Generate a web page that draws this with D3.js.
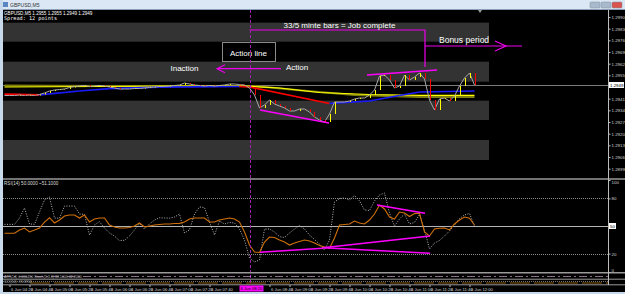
<!DOCTYPE html>
<html>
<head>
<meta charset="utf-8">
<script src="https://cdn.jsdelivr.net/npm/d3@7"></script>
<style>
html, body { margin: 0; padding: 0; background: #000; overflow: hidden; }
svg { display: block; font-family: "Liberation Sans", Arial, sans-serif; }
</style>
</head>
<body>
<div id="chart"></div>
<script>
// ---- DATA ----
// 5 minute closes, GBPUSD
var closes = [1.29429,1.29429,1.29429,1.29432,1.29429,1.29432,1.29429,1.29435,1.29444,1.29456,
  1.29462,1.29465,1.29468,1.29477,1.29483,1.29486,1.29489,1.29483,1.29486,1.29489,
  1.29486,1.29480,1.29474,1.29468,1.29468,1.29468,1.29471,1.29471,1.29474,1.29477,
  1.29480,1.29483,1.29483,1.29486,1.29489,1.29492,1.29504,1.29498,1.29492,1.29489,
  1.29486,1.29489,1.29486,1.29489,1.29492,1.29498,1.29498,1.29495,1.29492,1.29474,
  1.29432,1.29354,1.29372,1.29402,1.29378,1.29366,1.29354,1.29336,1.29336,1.29348,
  1.29348,1.29330,1.29300,1.29282,1.29270,1.29318,1.29390,1.29390,1.29390,1.29396,
  1.29408,1.29414,1.29414,1.29432,1.29462,1.29546,1.29552,1.29522,1.29474,1.29486,
  1.29552,1.29522,1.29540,1.29564,1.29528,1.29402,1.29342,1.29408,1.29414,1.29396,
  1.29426,1.29486,1.29534,1.29564,1.29492];

// moving averages as [bar, price]
var yellowMa = [[0,1.29480],[19,1.29483],[35,1.29486],[48,1.29486],[55,1.29474],[63,1.29447],[73,1.29435],[83,1.29430],[94,1.29430]];
var oliveMa = [[0,1.29489],[20,1.29486],[40,1.29486],[50,1.29486],[60,1.29457],[70,1.29432],[83,1.29420],[94,1.29420]];
var slopeMa = [[0,1.29437],[7,1.29433],[15,1.29456],[21,1.29470],[31,1.29479],[47,1.29483],[49,1.29480],[65,1.29381],[66,1.29383],[73,1.29396],[79,1.29429],[83,1.29450],[94,1.29456]];

// RSI window
var rsiSlow = [42.1,42.1,42.1,45.7,47.8,43.5,45.7,47.8,54.3,59.0,
  53.3,56.5,60.9,62.0,62.0,58.7,62.0,54.3,57.6,58.7,
  58.7,51.1,48.9,47.8,47.8,48.4,50.0,53.3,48.9,50.0,
  51.1,51.6,52.2,52.2,52.7,52.9,54.3,57.6,58.7,58.7,
  58.7,54.3,54.3,56.5,57.6,58.7,57.6,54.3,43.5,29.3,
  21.7,21.2,32.6,38.0,37.5,34.8,32.6,29.3,31.5,33.2,
  34.8,33.7,31.5,28.8,27.2,25.8,37.0,51.1,51.6,52.2,
  55.4,53.3,52.2,56.5,63.0,72.8,68.5,59.8,57.6,65.2,
  64.1,60.3,63.6,63.8,43.5,39.1,46.7,47.5,47.8,45.7,
  52.2,56.5,59.8,58.4,51.1];
var rsiFast = [51.8,51.8,51.8,58.7,69.6,52.2,51.8,65.2,78.3,81.5,
  58.7,58.4,71.7,71.7,71.7,63.0,62.7,40.2,51.1,54.7,
  47.8,42.4,39.1,34.0,34.5,39.1,45.7,52.7,46.7,52.2,
  56.5,59.0,58.7,58.5,59.8,63.0,42.4,45.7,63.0,70.7,
  70.1,54.3,40.2,55.4,52.2,53.8,53.3,46.7,34.8,15.2,
  10.9,13.0,46.7,46.7,43.5,38.4,37.5,42.4,46.7,50.5,
  46.7,40.2,35.3,30.4,23.9,34.8,76.1,79.9,80.4,78.3,
  83.2,77.2,67.4,66.8,77.2,83.7,85.9,64.1,50.0,57.6,
  63.0,52.2,53.8,62.5,45.7,25.0,31.5,34.2,39.1,44.6,
  51.1,58.2,62.0,63.6,50.0];
var rsiLevels = [80, 50, 20];
var rsiTicks = [100, 80, 20, 0];

// hand drawn objects [bar, value]
var priceTrends = [[[51.1,1.29342],[64.9,1.29264]], [[72.5,1.29552],[86.5,1.29582]]];
var rsiTrends = [[[51.1,21.4],[63.7,25.8]], [[63.7,26.4],[85.1,39.1]], [[63.7,26.4],[85.1,20.3]], [[74.5,72.8],[84.1,63.8]]];
var bands = [[1.29866,1.29752],[1.29632,1.29512],[1.29398,1.29282],[1.29162,1.29042]];

var priceTicks = [1.2990,1.2983,1.2976,1.2969,1.2962,1.2955,1.2948,1.2941,1.2934,1.2927,1.2920,1.2913,1.2906,1.2899];
var firstBarTime = new Date(2017, 5, 6, 4, 15);
var actionBar = 49;

// ---- LAYOUT ----
var W = 625, H = 294;
var left = 3, right = 608;
var main = { top: 10, bottom: 178 };
var sub = { top: 180, bottom: 272 };

var svg = d3.select("#chart").append("svg")
    .attr("width", W)
    .attr("height", H);

svg.append("rect").attr("width", W).attr("height", H).attr("fill", "#000");

var x = d3.scaleLinear().domain([0, 94]).range([4.5, 474.5]);
var y = d3.scaleLinear().domain([1.29942, 1.28934]).range([main.top, main.bottom]);
var yr = d3.scaleLinear().domain([0, 100]).range([sub.bottom, sub.top]);

var defs = svg.append("defs");
defs.append("clipPath").attr("id", "clipMain").append("rect")
    .attr("x", left).attr("y", main.top).attr("width", right - left).attr("height", main.bottom - main.top);
defs.append("clipPath").attr("id", "clipSub").append("rect")
    .attr("x", left).attr("y", sub.top).attr("width", right - left).attr("height", sub.bottom - sub.top);

var gMain = svg.append("g").attr("clip-path", "url(#clipMain)");
var gSub = svg.append("g").attr("clip-path", "url(#clipSub)");

// BANDS
gMain.selectAll("rect.band").data(bands).enter().append("rect")
    .attr("x", x(-3))
    .attr("width", x(96.9) - x(-3))
    .attr("y", function(d) { return y(d[0]); })
    .attr("height", function(d) { return y(d[1]) - y(d[0]); })
    .attr("fill", "#333333");

// CURRENT PRICE LINE
var last = closes[closes.length - 1];
gMain.append("line")
    .attr("x1", left).attr("x2", right)
    .attr("y1", Math.round(y(last)) + 0.5).attr("y2", Math.round(y(last)) + 0.5)
    .attr("stroke", "#7a7a7a").attr("stroke-width", 1);

// MOVING AVERAGES
var maLine = d3.line().x(function(d) { return x(d[0]); }).y(function(d) { return y(d[1]); });
gMain.append("path").attr("d", maLine(oliveMa)).attr("fill", "none").attr("stroke", "#7d7d10").attr("stroke-width", 2);
gMain.append("path").attr("d", maLine(yellowMa)).attr("fill", "none").attr("stroke", "#ffff00").attr("stroke-width", 1.2);

// slope coloured MA: red falling, blue rising
d3.pairs(slopeMa).forEach(function(p) {
    gMain.append("line")
        .attr("x1", x(p[0][0])).attr("y1", y(p[0][1]))
        .attr("x2", x(p[1][0])).attr("y2", y(p[1][1]))
        .attr("stroke", p[1][1] < p[0][1] ? "#ff0000" : "#1a1aff")
        .attr("stroke-width", 1.6);
});

// CLOSE LINE
var closeLine = d3.line().x(function(d, i) { return x(i); }).y(function(d) { return y(d); });
gMain.append("path").attr("d", closeLine(closes))
    .attr("fill", "none").attr("stroke", "#a8a8a8").attr("stroke-width", 1);

// BAR MOVES (prev close -> close)
gMain.selectAll("line.bar").data(d3.range(1, closes.length)).enter().append("line")
    .attr("x1", function(i) { return Math.round(x(i)) + 0.5; })
    .attr("x2", function(i) { return Math.round(x(i)) + 0.5; })
    .attr("y1", function(i) { return y(closes[i - 1]); })
    .attr("y2", function(i) { return y(closes[i]); })
    .attr("stroke", function(i) { return closes[i] >= closes[i - 1] ? "#ffff00" : "#ff0000"; })
    .attr("stroke-width", 1);

// TREND LINES
priceTrends.forEach(function(t) {
    gMain.append("line")
        .attr("x1", x(t[0][0])).attr("y1", y(t[0][1]))
        .attr("x2", x(t[1][0])).attr("y2", y(t[1][1]))
        .attr("stroke", "#ff00ff").attr("stroke-width", 1.4);
});

// ANNOTATIONS
var magenta = "#ee00ee";
var jobY = 1.29822;
gMain.append("polyline")
    .attr("points", [[x(actionBar), y(jobY)], [x(84.1), y(jobY)], [x(84.1), y(1.29600)]].join(" "))
    .attr("fill", "none").attr("stroke", magenta).attr("stroke-width", 1.2);

gMain.append("text")
    .attr("x", x(67)).attr("y", y(1.29837))
    .attr("text-anchor", "middle").attr("font-size", "8px").attr("fill", "#fff")
    .text("33/5 minte bars = Job complete");

// bonus arrow
var bonusY = 1.29726;
gMain.append("line")
    .attr("x1", x(84.1)).attr("x2", x(103.5))
    .attr("y1", y(bonusY)).attr("y2", y(bonusY))
    .attr("stroke", magenta).attr("stroke-width", 1.2);
gMain.append("polyline")
    .attr("points", [[x(98.1), y(bonusY + 0.0003)], [x(100.3), y(bonusY)], [x(98.1), y(bonusY - 0.0003)]].join(" "))
    .attr("fill", "none").attr("stroke", magenta).attr("stroke-width", 1.2);
gMain.append("text")
    .attr("x", x(86.9)).attr("y", y(1.29747))
    .attr("font-size", "8.5px").attr("fill", "#fff")
    .text("Bonus period");

// action line box
svg.append("rect")
    .attr("x", Math.round(x(43.5)) + 0.5).attr("y", Math.round(y(1.29750)) + 0.5)
    .attr("width", Math.round(x(54.1) - x(43.5))).attr("height", Math.round(y(1.29636) - y(1.29750)))
    .attr("fill", "#000").attr("stroke", "#8a8a8a").attr("stroke-width", 1);
svg.append("text")
    .attr("x", x(48.8)).attr("y", y(1.29669))
    .attr("text-anchor", "middle").attr("font-size", "8px").attr("fill", "#fff")
    .text("Action line");

// action arrow (pointing left)
var actY = 1.29590;
gMain.append("line")
    .attr("x1", x(42.5)).attr("x2", x(55.3))
    .attr("y1", y(actY)).attr("y2", y(actY))
    .attr("stroke", magenta).attr("stroke-width", 1.2);
gMain.append("polyline")
    .attr("points", [[x(44.1), y(actY + 0.00024)], [x(42.5), y(actY)], [x(44.1), y(actY - 0.00024)]].join(" "))
    .attr("fill", "none").attr("stroke", magenta).attr("stroke-width", 1.2);
gMain.append("text")
    .attr("x", x(56.3)).attr("y", y(1.29582))
    .attr("font-size", "8px").attr("fill", "#fff")
    .text("Action");
gMain.append("text")
    .attr("x", x(33.2)).attr("y", y(1.29579))
    .attr("font-size", "8px").attr("fill", "#fff")
    .text("Inaction");

// info text
svg.append("text").attr("x", 4).attr("y", 14.5).attr("font-size", "4.6px").attr("fill", "#fff")
    .text("GBPUSD,M5  1.2955 1.2955 1.2949 1.2949");
svg.append("text").attr("x", 4).attr("y", 19.5).attr("font-size", "5.2px").attr("fill", "#fff")
    .attr("font-family", "DejaVu Sans Mono, monospace")
    .text("Spread: 12 points");

// chart shift marker
svg.append("path").attr("d", "M478,10 L482,10 L480,13 Z").attr("fill", "#9a9a9a");

// ---- RSI WINDOW ----
gSub.selectAll("line.level").data(rsiLevels).enter().append("line")
    .attr("x1", left).attr("x2", right)
    .attr("y1", function(d) { return Math.round(yr(d)) + 0.5; })
    .attr("y2", function(d) { return Math.round(yr(d)) + 0.5; })
    .attr("stroke", function(d) { return d === 50 ? "#b4b4b4" : "#8a8a8a"; })
    .attr("stroke-dasharray", function(d) { return d === 50 ? null : "1,1"; })
    .attr("stroke-width", 1);

var rsiLine = d3.line().x(function(d, i) { return x(i); }).y(function(d) { return yr(d); });
gSub.append("path").attr("d", rsiLine(rsiFast))
    .attr("fill", "none").attr("stroke", "#b8b8b8").attr("stroke-width", 1).attr("stroke-dasharray", "1,1.5");
gSub.append("path").attr("d", rsiLine(rsiSlow))
    .attr("fill", "none").attr("stroke", "#d0700a").attr("stroke-width", 1.1);

rsiTrends.forEach(function(t) {
    gSub.append("line")
        .attr("x1", x(t[0][0])).attr("y1", yr(t[0][1]))
        .attr("x2", x(t[1][0])).attr("y2", yr(t[1][1]))
        .attr("stroke", "#ff00ff").attr("stroke-width", 1.4);
});

svg.append("text").attr("x", 4).attr("y", 185).attr("font-size", "4.6px").attr("fill", "#ddd")
    .text("RSI(14) " + d3.format(".4f")(rsiFast[rsiFast.length - 1]) + " ~" + d3.format(".4f")(rsiSlow[rsiSlow.length - 1]));

// ---- ACTION VERTICAL LINE ----
svg.append("line")
    .attr("x1", Math.round(x(actionBar)) + 0.5).attr("x2", Math.round(x(actionBar)) + 0.5)
    .attr("y1", main.top).attr("y2", 285)
    .attr("stroke", "#a020b0").attr("stroke-width", 1).attr("stroke-dasharray", "3,2");

// ---- BOTTOM STRIP (extra indicator windows) ----
svg.append("line").attr("x1", left).attr("x2", right).attr("y1", 276.5).attr("y2", 276.5)
    .attr("stroke", "#c8a0c8").attr("stroke-width", 1).attr("stroke-dasharray", "8,3,2,3").attr("opacity", 0.7);
svg.append("line").attr("x1", left).attr("x2", right).attr("y1", 281.5).attr("y2", 281.5)
    .attr("stroke", "#707070").attr("stroke-width", 1).attr("stroke-dasharray", "1,1");
svg.append("line").attr("x1", 30).attr("x2", right).attr("y1", 283).attr("y2", 283)
    .attr("stroke", "#8a5a10").attr("stroke-width", 1).attr("stroke-dasharray", "20,4");
svg.append("text").attr("x", 4).attr("y", 277.5).attr("font-size", "3.6px").attr("fill", "#bbb")
    .text("ATR(14) 0.000450 Stoch(5,3,3) 38.1000 42.2000");
svg.append("text").attr("x", 4).attr("y", 283).attr("font-size", "3.6px").attr("fill", "#bbb")
    .text("CCI(14) -93.3958");

// separators
[179, 272.8].forEach(function(v) {
    svg.append("line").attr("x1", left).attr("x2", right + 17).attr("y1", v).attr("y2", v)
        .attr("stroke", "#9a9a9a").attr("stroke-width", 1.6);
});
[279.2, 284.8].forEach(function(v) {
    svg.append("line").attr("x1", left).attr("x2", right + 17).attr("y1", v).attr("y2", v)
        .attr("stroke", "#9a9a9a").attr("stroke-width", 1);
});

// ---- PRICE AXIS ----
svg.append("line").attr("x1", right + 0.5).attr("x2", right + 0.5).attr("y1", main.top).attr("y2", 285)
    .attr("stroke", "#bdbdbd").attr("stroke-width", 1);

var yAxis = d3.axisRight(y)
    .tickValues(priceTicks.filter(function(t) { return Math.abs(y(t) - y(last)) > 6; }))
    .tickFormat(d3.format(".4f"))
    .tickSize(2)
    .tickPadding(1);
var yAxisG = svg.append("g").attr("transform", "translate(" + (right + 0.5) + ",0)").call(yAxis);
yAxisG.select(".domain").remove();
yAxisG.selectAll("line").attr("stroke", "#bdbdbd");
yAxisG.selectAll("text").attr("fill", "#d0d0d0").attr("font-size", "4.4px");

// current price box
svg.append("rect").attr("x", right + 1).attr("y", y(last) - 3).attr("width", 15).attr("height", 6).attr("fill", "#fff");
svg.append("text").attr("x", right + 2).attr("y", y(last) + 1.6).attr("font-size", "4.4px").attr("fill", "#000")
    .text(d3.format(".4f")(last));

var rAxis = d3.axisRight(yr).tickValues(rsiTicks).tickFormat(d3.format("d")).tickSize(2).tickPadding(1);
var rAxisG = svg.append("g").attr("transform", "translate(" + (right + 0.5) + ",0)").call(rAxis);
rAxisG.select(".domain").remove();
rAxisG.selectAll("line").attr("stroke", "#bdbdbd");
rAxisG.selectAll("text").attr("fill", "#d0d0d0").attr("font-size", "4.4px")
    .attr("dy", function(d) { return d === 100 ? "0.9em" : d === 0 ? "-0.2em" : "0.32em"; });

svg.append("rect").attr("x", right + 1).attr("y", yr(50) - 3).attr("width", 7).attr("height", 6).attr("fill", "#fff");
svg.append("text").attr("x", right + 2).attr("y", yr(50) + 1.6).attr("font-size", "4.4px").attr("fill", "#000").text("50");

// ---- TIME AXIS ----
var timeFmt = d3.timeFormat("%-d %b %H:%M");
function barTime(i) { return d3.timeMinute.offset(firstBarTime, i * 5); }
// skip labels that would run under the vertical line's time box
var timeTicks = d3.range(1, 95, 4).filter(function(i) { return i < actionBar - 4 || i > actionBar; });
var xAxis = d3.axisBottom(x)
    .tickValues(timeTicks)
    .tickFormat(function(i) { return timeFmt(barTime(i)); })
    .tickSize(2)
    .tickPadding(1);
var xAxisG = svg.append("g").attr("transform", "translate(0,285)").call(xAxis);
xAxisG.select(".domain").remove();
xAxisG.selectAll("line").attr("stroke", "#bdbdbd");
xAxisG.selectAll("text").attr("fill", "#d0d0d0").attr("font-size", "4.2px")
    .attr("text-anchor", "start").attr("dx", "1");

svg.append("rect").attr("x", x(actionBar) - 10).attr("y", 285.5).attr("width", 24).attr("height", 6).attr("fill", "#ff00ff");
svg.append("text").attr("x", x(actionBar) - 9).attr("y", 290.3).attr("font-size", "4.2px").attr("fill", "#000")
    .text(timeFmt(barTime(actionBar)));

// ---- WINDOW FRAME ----
var frame = "#c9d9ec";
svg.append("rect").attr("x", 0).attr("y", 0).attr("width", W).attr("height", 9).attr("fill", "#dbe7f4");
svg.append("line").attr("x1", 0).attr("x2", W).attr("y1", 9.5).attr("y2", 9.5).attr("stroke", "#8aa0b8");
svg.append("rect").attr("x", 0).attr("y", 0).attr("width", 3).attr("height", H).attr("fill", frame);
svg.append("rect").attr("x", 0).attr("y", 292).attr("width", W).attr("height", 2).attr("fill", frame);
svg.append("rect").attr("x", 3).attr("y", 2).attr("width", 5).attr("height", 5).attr("fill", "#5b86c4");
svg.append("text").attr("x", 10).attr("y", 6.8).attr("font-size", "5px").attr("fill", "#333").text("GBPUSD,M5");
[[590, "#a9b9cc"], [601, "#a9b9cc"], [612, "#d9534f"]].forEach(function(b) {
    svg.append("rect").attr("x", b[0]).attr("y", 2).attr("width", 10).attr("height", 6)
        .attr("rx", 1).attr("fill", b[1]).attr("stroke", "#7f8fa3").attr("stroke-width", 0.5);
});
</script>
</body>
</html>
